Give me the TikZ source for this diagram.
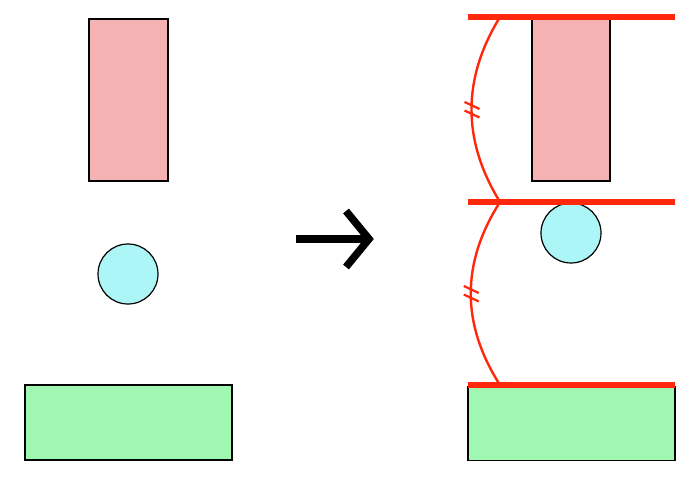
\documentclass[tikz,border=0pt]{standalone}
\definecolor{blockpink}{RGB}{244,178,178}
\definecolor{ballcyan}{RGB}{172,246,248}
\definecolor{blockgreen}{RGB}{160,247,178}
\definecolor{wallred}{RGB}{255,40,12}
\begin{document}
\begin{tikzpicture}[x=1pt,y=-1pt,
    block/.style={draw=black, line width=1.2pt, inner sep=0pt, minimum width=#1},
    ball/.style={circle, draw=black, line width=1.2pt, fill=ballcyan, inner sep=0pt, minimum size=60pt},
    wall/.style={wallred, line width=5.5pt},
    chord/.style={wallred, line width=2.4pt},
    tick/.style={wallred, line width=2.2pt}]
    \useasboundingbox (0,0) rectangle (691,481);

    % Draw left column: block, ball and base
    \node[block=79pt, minimum height=162pt, fill=blockpink] (topL) at (128.5,100) {};
    \node[ball] (ballL) at (128,274) {};
    \node[block=207pt, minimum height=75pt, fill=blockgreen] (baseL) at (128.5,422.5) {};

    % Draw the transition arrow
    \coordinate (A) at (296,239);
    \coordinate (Ah) at (369,239);
    \draw[line width=7.5pt] (A) -- (366,239);
    \draw[line width=7.5pt, miter limit=4] (346,211) -- (Ah) -- (346,267);

    % Draw right column: block, ball and base
    \node[block=78pt, minimum height=162pt, fill=blockpink] (topR) at (571,100) {};
    \node[ball] (ballR) at (571,233) {};
    \node[block=207pt, minimum height=74pt, fill=blockgreen] (baseR) at (571.5,423.5) {};

    % Draw the three walls
    \coordinate (W1l) at (468,17);  \coordinate (W1r) at (675,17);
    \coordinate (W2l) at (468,202); \coordinate (W2r) at (675,202);
    \coordinate (W3l) at (468,385); \coordinate (W3r) at (675,385);
    \coordinate (P1) at (500,17);
    \coordinate (P2) at (500,202);
    \coordinate (P3) at (500,385);

    % equal spacings (approximated by circular arcs)
    \draw[chord] (P1) .. controls (462,78.7) and (462,140.3) .. node[pos=0.5] (M1) {} (P2);
    \draw[chord] (P2) .. controls (461,263) and (461,324) .. node[pos=0.5] (M2) {} (P3);
    \draw[tick] ([shift={(-7,-7.5)}]M1.center) -- ++(15,7);
    \draw[tick] ([shift={(-7,1)}]M1.center) -- ++(15,7);
    \draw[tick] ([shift={(-7,-7.5)}]M2.center) -- ++(15,7);
    \draw[tick] ([shift={(-7,1)}]M2.center) -- ++(15,7);

    \draw[wall] (W1l) -- (W1r);
    \draw[wall] (W2l) -- (W2r);
    \draw[wall] (W3l) -- (W3r);
\end{tikzpicture}
\end{document}
